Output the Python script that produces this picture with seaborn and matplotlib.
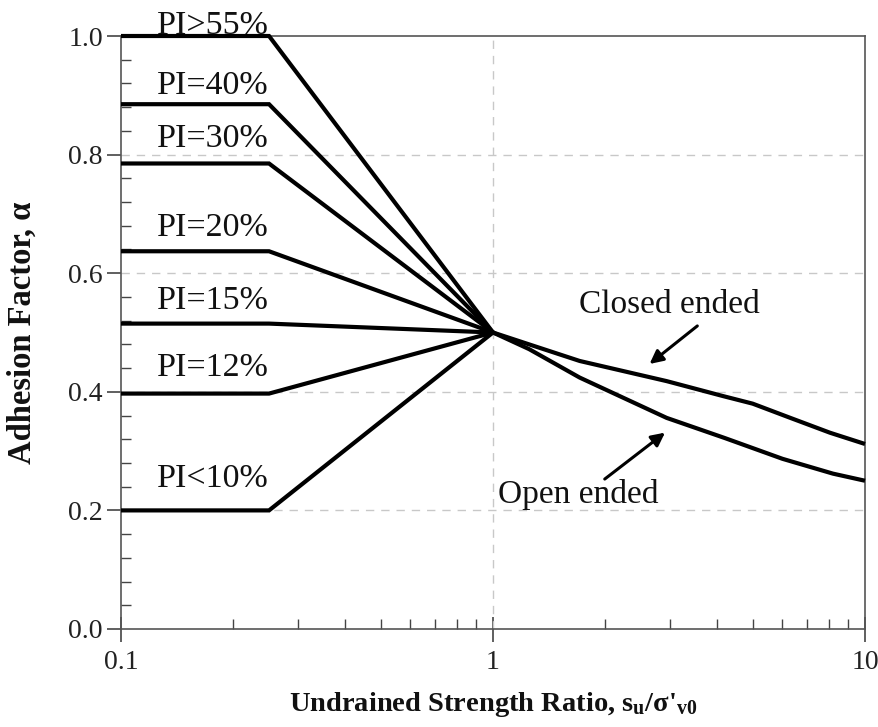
import numpy as np
import pandas as pd
import matplotlib
matplotlib.use("Agg")
import matplotlib.pyplot as plt
import seaborn as sns
from matplotlib.ticker import FixedLocator, MultipleLocator, NullFormatter

# ---------------- data ----------------
pi_labels = ["PI>55%", "PI=40%", "PI=30%", "PI=20%", "PI=15%", "PI=12%", "PI<10%"]
pi_alpha_low = [1.0, 0.885, 0.785, 0.637, 0.515, 0.397, 0.2]
pi_x = [0.1, 0.25, 1.0]
alpha_at_one = 0.5

closed_x = [1.0, 1.25, 1.71, 2.93, 4.14, 4.99, 6.3, 8.05, 10.0]
closed_y = [0.5, 0.48, 0.452, 0.418, 0.393, 0.38, 0.356, 0.331, 0.312]
open_x = [1.0, 1.25, 1.71, 2.93, 4.2, 6.0, 8.2, 10.0]
open_y = [0.5, 0.472, 0.424, 0.356, 0.322, 0.287, 0.262, 0.25]

x_ticks = [0.1, 1, 10]
x_ticklabels = ["0.1", "1", "10"]
y_ticks = [0.0, 0.2, 0.4, 0.6, 0.8, 1.0]

# label anchor positions (data coords)
pi_label_x = 0.125
pi_label_y = [1.004, 0.903, 0.813, 0.662, 0.539, 0.427, 0.239]

# ---------------- style ----------------
sns.set_theme(style="white")
plt.rcParams["font.family"] = ["Liberation Serif", "DejaVu Serif"]
plt.rcParams["mathtext.fontset"] = "custom"
plt.rcParams["mathtext.rm"] = "Liberation Serif"
plt.rcParams["mathtext.it"] = "Liberation Serif:italic"
plt.rcParams["mathtext.bf"] = "Liberation Serif:bold"

fig = plt.figure(figsize=(8.79, 7.27), dpi=100)
ax = fig.add_axes([121 / 879, 1 - 629 / 727, (865 - 121) / 879, (629 - 36) / 727])

rows = []
for lab, a in zip(pi_labels, pi_alpha_low):
    for i, xv in enumerate(pi_x):
        rows.append({"x": xv, "alpha": a if i < 2 else alpha_at_one, "series": lab, "order": i})
for i, (xv, yv) in enumerate(zip(closed_x, closed_y)):
    rows.append({"x": xv, "alpha": yv, "series": "Closed ended", "order": i})
for i, (xv, yv) in enumerate(zip(open_x, open_y)):
    rows.append({"x": xv, "alpha": yv, "series": "Open ended", "order": i})
df = pd.DataFrame(rows)

for name, g in df.groupby("series", sort=False):
    sns.lineplot(data=g.sort_values("order"), x="x", y="alpha", ax=ax, color="black",
                 linewidth=3.0, sort=False, legend=False, clip_on=False,
                 solid_joinstyle="miter", solid_capstyle="butt", zorder=3)

ax.set_xscale("log")
ax.set_xlim(0.1, 10)
ax.set_ylim(0.0, 1.0)

# grid
for yv in [0.2, 0.4, 0.6, 0.8]:
    ax.axhline(yv, color="#c8c8c8", lw=1.0, ls=(0, (6, 5)), zorder=1)
ax.axvline(1.0, color="#c8c8c8", lw=1.0, ls=(0, (6, 5)), zorder=1)

# ticks
ax.xaxis.set_major_locator(FixedLocator(x_ticks))
ax.set_xticklabels(x_ticklabels)
ax.xaxis.set_minor_locator(FixedLocator([k * 10.0 ** d for d in (-1, 0) for k in range(2, 10)]))
ax.xaxis.set_minor_formatter(NullFormatter())
ax.yaxis.set_major_locator(FixedLocator(y_ticks))
ax.set_yticklabels([f"{v:.1f}" for v in y_ticks])
ax.yaxis.set_minor_locator(MultipleLocator(0.04))

ax.tick_params(axis="x", which="major", direction="inout", length=18, width=1.2,
               color="#444444", labelsize=20, pad=6, labelcolor="#222222")
ax.tick_params(axis="y", which="major", direction="out", length=10, width=1.2,
               color="#444444", labelsize=20, pad=3, labelcolor="#222222")
ax.tick_params(which="minor", direction="in", length=7, width=1.0, color="#444444")
ax.tick_params(bottom=True, left=True, top=False, right=False, which="both")

for s in ax.spines.values():
    s.set_color("#555555")
    s.set_linewidth(1.2)
    s.set_visible(True)

# labels
for lab, ly in zip(pi_labels, pi_label_y):
    ax.text(pi_label_x, ly, lab, fontsize=24.5, ha="left", va="baseline",
            color="#111111", clip_on=False)

ax.text(2.98, 0.533, "Closed ended", fontsize=24, ha="center", va="baseline", color="#111111")
ax.text(1.69, 0.213, "Open ended", fontsize=24, ha="center", va="baseline", color="#111111")
ax.annotate("", xy=(2.60, 0.444), xytext=(3.59, 0.514),
            arrowprops=dict(arrowstyle="-|>", color="black", lw=2.2, mutation_scale=20))
ax.annotate("", xy=(2.94, 0.334), xytext=(1.97, 0.25),
            arrowprops=dict(arrowstyle="-|>", color="black", lw=2.2, mutation_scale=20))

ax.set_xlabel(r"Undrained Strength Ratio, $\mathbf{s_{u}/\sigma}$'$_{\mathbf{v0}}$", fontsize=20.5,
              fontweight="bold", color="#111111")
ax.set_ylabel("Adhesion Factor, α", fontsize=23.5, fontweight="bold", color="#111111")
ax.xaxis.set_label_coords(0.5, (629 - 690) / 593)
ax.yaxis.set_label_coords((38 - 121) / 744, 0.5)

fig.savefig("out.png", dpi=100)
